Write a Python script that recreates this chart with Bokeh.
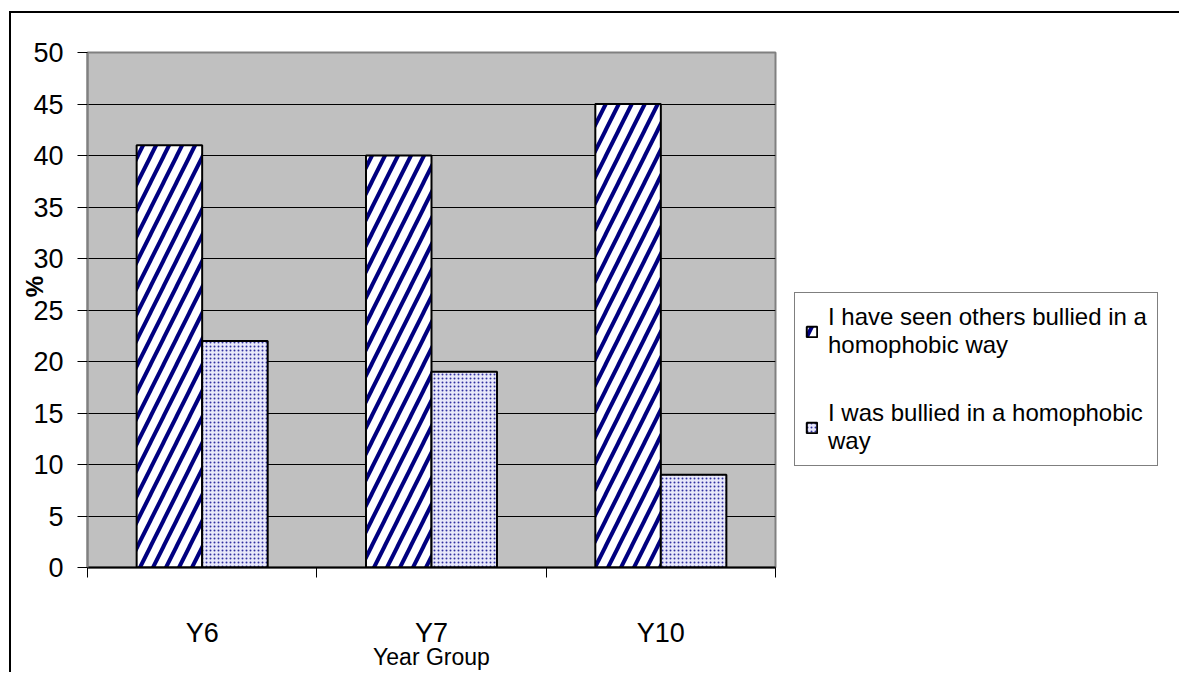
import numpy as np
from bokeh.plotting import figure
from bokeh.models import (Range1d, FixedTicker, Legend, LegendItem,
                          ColumnDataSource)
from bokeh.embed import file_html
from bokeh.resources import INLINE

categories = ["Y6", "Y7", "Y10"]
seen_others = [41, 40, 45]
was_bullied = [22, 19, 9]
series_names = ["I have seen others bullied in a\nhomophobic way",
                "I was bullied in a homophobic\nway"]
y_ticks = list(range(0, 51, 5))

FONT = "Liberation Sans"

idx = np.arange(len(categories))
centers = idx + 0.5
bw = 0.2857

src = ColumnDataSource(dict(
    x1=centers - bw / 2, x2=centers + bw / 2,
    seen=seen_others, bullied=was_bullied))

p = figure(frame_width=688, frame_height=515, output_backend="svg",
           toolbar_location=None,
           x_range=Range1d(0, len(categories)), y_range=Range1d(0, 50),
           min_border_left=87, min_border_right=12, min_border_top=52,
           min_border_bottom=102)

p.background_fill_color = "#C0C0C0"
p.border_fill_color = None
p.outline_line_color = "#808080"
p.outline_line_width = 2
p.styles = {
    "background-color": "white",
    "background-image": "linear-gradient(black, black), linear-gradient(black, black)",
    "background-size": "2px 100%, 100% 2px",
    "background-position": "9px 11px, 9px 11px",
    "background-repeat": "no-repeat",
}

r1 = p.vbar(x="x1", top="seen", width=bw, source=src, fill_color="white",
            hatch_pattern="/", hatch_color="#000080", hatch_scale=26,
            hatch_weight=4, line_color="black", line_width=2)
r2 = p.vbar(x="x2", top="bullied", width=bw, source=src, fill_color="#E8E8FA",
            hatch_pattern=".", hatch_color="#3030A0", hatch_scale=4,
            hatch_weight=1.6, line_color="black", line_width=2)

# x axis
xa = p.xaxis[0]
xa.ticker = FixedTicker(ticks=list(centers), minor_ticks=list(range(len(categories) + 1)))
xa.major_label_overrides = {float(c): lab for c, lab in zip(centers, categories)}
xa.major_tick_line_color = None
xa.minor_tick_line_color = "black"
xa.minor_tick_out = 10
xa.minor_tick_in = 0
xa.axis_line_color = "black"
xa.axis_line_width = 2
xa.major_label_text_font = FONT
xa.major_label_text_font_size = "27px"
xa.major_label_text_color = "black"
xa.major_label_standoff = 40
xa.axis_label = "Year Group"
xa.axis_label_text_font = FONT
xa.axis_label_text_font_size = "23px"
xa.axis_label_text_font_style = "normal"
xa.axis_label_text_color = "black"
xa.axis_label_standoff = -7

# y axis
ya = p.yaxis[0]
ya.ticker = FixedTicker(ticks=y_ticks)
ya.minor_tick_line_color = None
ya.major_tick_out = 10
ya.major_tick_in = 0
ya.major_tick_line_color = "black"
ya.axis_line_color = "#808080"
ya.axis_line_width = 2
ya.major_label_text_font = FONT
ya.major_label_text_font_size = "27px"
ya.major_label_text_color = "black"
ya.major_label_standoff = 14
ya.axis_label = "\u00a0" * 7 + "%"
ya.axis_label_text_font = FONT
ya.axis_label_text_font_size = "24px"
ya.axis_label_text_font_style = "bold"
ya.axis_label_text_color = "black"
ya.axis_label_standoff = -18

p.xgrid.grid_line_color = None
p.ygrid.ticker = FixedTicker(ticks=y_ticks[1:-1])
p.ygrid.grid_line_color = "black"
p.ygrid.grid_line_width = 1

legend = Legend(items=[LegendItem(label=series_names[0], renderers=[r1]),
                       LegendItem(label=series_names[1], renderers=[r2])],
                location=(19, 101))
legend.label_text_font = FONT
legend.label_text_font_size = "24px"
legend.label_text_color = "black"
legend.glyph_width = 13
legend.glyph_height = 13
legend.label_standoff = 10
legend.spacing = 40
legend.padding = 10
legend.margin = 0
legend.border_line_color = "black"
legend.border_line_width = 1
legend.background_fill_color = "white"
legend.background_fill_alpha = 1
p.add_layout(legend, "right")

open("out.html", "w").write(file_html(p, INLINE))
